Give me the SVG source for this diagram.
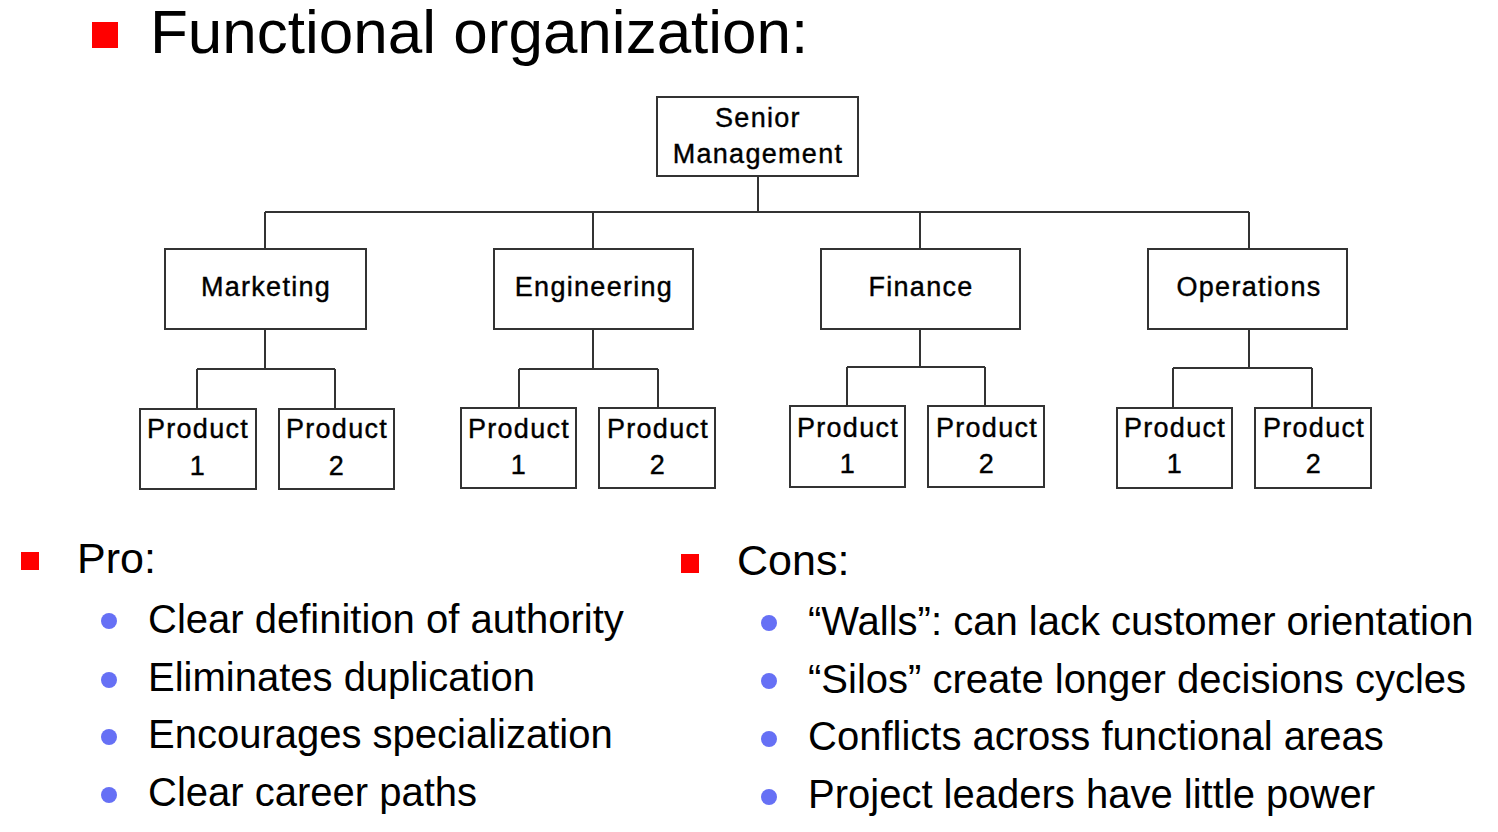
<svg xmlns="http://www.w3.org/2000/svg" width="1498" height="832" viewBox="0 0 1498 832">
  <style>
    .box { fill: #ffffff; stroke: #333333; stroke-width: 2; }
    .conn { fill: none; stroke: #333333; stroke-width: 2; }
    .org { font-family: "Liberation Sans", Arial, sans-serif; font-size: 27px; letter-spacing: 1.3px; text-anchor: middle; fill: #000000; stroke: #000000; stroke-width: 0.4px; }
    .title { font-family: "Liberation Sans", Arial, sans-serif; font-size: 62px; fill: #000000; }
    .head { font-family: "Liberation Sans", Arial, sans-serif; font-size: 43px; fill: #000000; }
    .item { font-family: "Liberation Sans", Arial, sans-serif; font-size: 40px; fill: #000000; }
    .sq { fill: #ff0000; }
    .dot { fill: #6670f5; }
  </style>
  <rect width="1498" height="832" fill="#ffffff"/>

  <!-- Title -->
  <g id="title">
    <rect class="sq" x="92" y="22" width="26" height="26"/>
    <text class="title" x="150" y="53">Functional organization:</text>
  </g>

  <!-- Connectors -->
  <g id="connectors">
    <path class="conn" d="M758 176 V212 M265 212 H1249 M265 212 V249 M593 212 V249 M920 212 V249 M1249 212 V249"/>
    <path class="conn" d="M265 329 V369 M197 369 H335 M197 369 V409 M335 369 V409"/>
    <path class="conn" d="M593 329 V369 M519 369 H658 M519 369 V408 M658 369 V408"/>
    <path class="conn" d="M920 329 V367 M847 367 H985 M847 367 V406 M985 367 V406"/>
    <path class="conn" d="M1249 329 V368 M1173 368 H1312 M1173 368 V408 M1312 368 V408"/>
  </g>

  <!-- Org nodes -->
  <g id="senior">
    <rect class="box" x="657" y="97" width="201" height="79"/>
    <text class="org" x="758" y="127">Senior</text>
    <text class="org" x="758" y="163">Management</text>
  </g>
  <g id="marketing">
    <rect class="box" x="165" y="249" width="201" height="80"/>
    <text class="org" x="266" y="296">Marketing</text>
  </g>
  <g id="engineering">
    <rect class="box" x="494" y="249" width="199" height="80"/>
    <text class="org" x="594" y="296">Engineering</text>
  </g>
  <g id="finance">
    <rect class="box" x="821" y="249" width="199" height="80"/>
    <text class="org" x="921" y="296">Finance</text>
  </g>
  <g id="operations">
    <rect class="box" x="1148" y="249" width="199" height="80"/>
    <text class="org" x="1249" y="296">Operations</text>
  </g>

  <g id="mkt-p1">
    <rect class="box" x="140" y="409" width="116" height="80"/>
    <text class="org" x="198" y="438">Product</text>
    <text class="org" x="198" y="475">1</text>
  </g>
  <g id="mkt-p2">
    <rect class="box" x="279" y="409" width="115" height="80"/>
    <text class="org" x="337" y="438">Product</text>
    <text class="org" x="337" y="475">2</text>
  </g>
  <g id="eng-p1">
    <rect class="box" x="461" y="408" width="115" height="80"/>
    <text class="org" x="519" y="438">Product</text>
    <text class="org" x="519" y="474">1</text>
  </g>
  <g id="eng-p2">
    <rect class="box" x="599" y="408" width="116" height="80"/>
    <text class="org" x="658" y="438">Product</text>
    <text class="org" x="658" y="474">2</text>
  </g>
  <g id="fin-p1">
    <rect class="box" x="790" y="406" width="115" height="81"/>
    <text class="org" x="848" y="437">Product</text>
    <text class="org" x="848" y="473">1</text>
  </g>
  <g id="fin-p2">
    <rect class="box" x="928" y="406" width="116" height="81"/>
    <text class="org" x="987" y="437">Product</text>
    <text class="org" x="987" y="473">2</text>
  </g>
  <g id="ops-p1">
    <rect class="box" x="1117" y="408" width="115" height="80"/>
    <text class="org" x="1175" y="437">Product</text>
    <text class="org" x="1175" y="473">1</text>
  </g>
  <g id="ops-p2">
    <rect class="box" x="1255" y="408" width="116" height="80"/>
    <text class="org" x="1314" y="437">Product</text>
    <text class="org" x="1314" y="473">2</text>
  </g>

  <!-- Pro list -->
  <g id="pro">
    <rect class="sq" x="21" y="552" width="18" height="18"/>
    <text class="head" x="77" y="573">Pro:</text>
    <circle class="dot" cx="109" cy="621" r="8"/>
    <circle class="dot" cx="109" cy="680" r="8"/>
    <circle class="dot" cx="109" cy="737" r="8"/>
    <circle class="dot" cx="109" cy="795" r="8"/>
    <text class="item" x="148" y="633">Clear definition of authority</text>
    <text class="item" x="148" y="691">Eliminates duplication</text>
    <text class="item" x="148" y="748">Encourages specialization</text>
    <text class="item" x="148" y="806">Clear career paths</text>
  </g>

  <!-- Cons list -->
  <g id="cons">
    <rect class="sq" x="681" y="554" width="18" height="19"/>
    <text class="head" x="737" y="575">Cons:</text>
    <circle class="dot" cx="769" cy="623" r="8"/>
    <circle class="dot" cx="769" cy="681" r="8"/>
    <circle class="dot" cx="769" cy="739" r="8"/>
    <circle class="dot" cx="769" cy="797" r="8"/>
    <text class="item" x="808" y="635">“Walls”: can lack customer orientation</text>
    <text class="item" x="808" y="693">“Silos” create longer decisions cycles</text>
    <text class="item" x="808" y="750">Conflicts across functional areas</text>
    <text class="item" x="808" y="808">Project leaders have little power</text>
  </g>
</svg>
